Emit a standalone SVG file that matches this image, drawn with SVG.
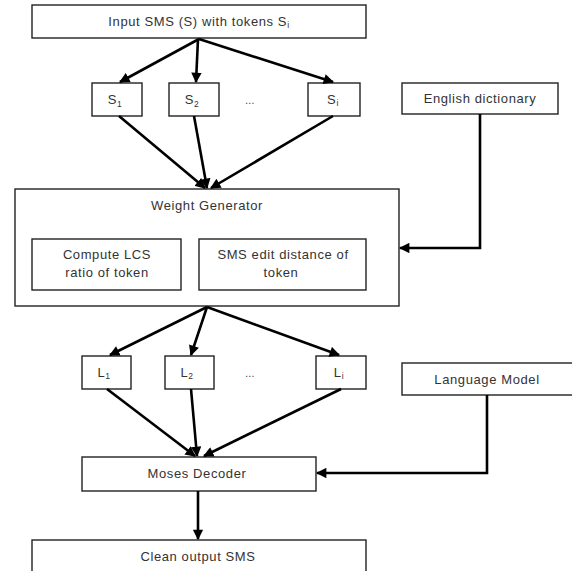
<svg xmlns="http://www.w3.org/2000/svg" width="572" height="571" viewBox="0 0 572 571">
<style>
.box{fill:#fff;stroke:#222;stroke-width:1.4}
.t{font-family:"Liberation Sans",Arial,sans-serif;font-size:13px;fill:#333;letter-spacing:0.6px;text-anchor:middle}
.sub{font-size:8.5px}
.c{fill:none;stroke:#000;stroke-width:2.6}
</style>
<defs>
<marker id="ah" viewBox="0 0 10 10" refX="9" refY="5" markerWidth="4.2" markerHeight="4" orient="auto" markerUnits="strokeWidth">
<path d="M0,0 L10,5 L0,10 z" fill="#000"/>
</marker>
</defs>
<rect width="572" height="571" fill="#fff"/>
<g id="input"><rect class="box" x="32" y="5" width="334" height="33"/><text class="t" x="199" y="26">Input SMS (S) with tokens S<tspan class="sub" dy="2">i</tspan></text></g>
<g id="s1"><rect class="box" x="92" y="83" width="50" height="33"/><text class="t" x="115" y="104">S<tspan class="sub" dy="3">1</tspan></text></g>
<g id="s2"><rect class="box" x="169" y="83" width="50" height="33"/><text class="t" x="192" y="104">S<tspan class="sub" dy="3">2</tspan></text></g>
<g id="sdots"><text class="t" x="250" y="104" style="font-size:10px">…</text></g>
<g id="si"><rect class="box" x="308" y="83" width="52" height="33"/><text class="t" x="333" y="104">S<tspan class="sub" dy="2">i</tspan></text></g>
<g id="dict"><rect class="box" x="402" y="83" width="156" height="31"/><text class="t" x="480" y="103">English dictionary</text></g>
<g id="wg"><rect class="box" x="15" y="189" width="384" height="117"/><text class="t" x="207" y="210">Weight Generator</text></g>
<g id="lcs"><rect class="box" x="32" y="239" width="149" height="51"/><text class="t" x="107" y="259">Compute LCS</text><text class="t" x="107" y="277">ratio of token</text></g>
<g id="sms"><rect class="box" x="199" y="239" width="167" height="51"/><text class="t" x="283" y="259">SMS edit distance of</text><text class="t" x="281" y="277">token</text></g>
<g id="l1"><rect class="box" x="82" y="356" width="49" height="33"/><text class="t" x="104" y="377">L<tspan class="sub" dy="2">1</tspan></text></g>
<g id="l2"><rect class="box" x="165" y="356" width="49" height="33"/><text class="t" x="187" y="377">L<tspan class="sub" dy="2">2</tspan></text></g>
<g id="ldots"><text class="t" x="250" y="377" style="font-size:10px">…</text></g>
<g id="li"><rect class="box" x="316" y="356" width="50" height="33"/><text class="t" x="339" y="377">L<tspan class="sub" dy="2">i</tspan></text></g>
<g id="lm"><rect class="box" x="402" y="363" width="172" height="32"/><text class="t" x="487" y="384">Language Model</text></g>
<g id="moses"><rect class="box" x="82" y="457" width="234" height="34"/><text class="t" x="197" y="478">Moses Decoder</text></g>
<g id="clean"><rect class="box" x="32" y="540" width="334" height="40"/><text class="t" x="198" y="561">Clean output SMS</text></g>
<g id="connectors">
<line class="c" x1="199" y1="39" x2="120" y2="82" marker-end="url(#ah)"/>
<line class="c" x1="198" y1="39" x2="196" y2="82" marker-end="url(#ah)"/>
<line class="c" x1="199" y1="39" x2="333" y2="82" marker-end="url(#ah)"/>
<line class="c" x1="119" y1="116" x2="205" y2="188" marker-end="url(#ah)"/>
<line class="c" x1="194" y1="116" x2="207" y2="188" marker-end="url(#ah)"/>
<line class="c" x1="333" y1="116" x2="211" y2="188" marker-end="url(#ah)"/>
<polyline class="c" points="480,114 480,248 400,248" marker-end="url(#ah)"/>
<line class="c" x1="207" y1="307" x2="110" y2="355" marker-end="url(#ah)"/>
<line class="c" x1="207" y1="307" x2="191" y2="355" marker-end="url(#ah)"/>
<line class="c" x1="207" y1="307" x2="339" y2="355" marker-end="url(#ah)"/>
<line class="c" x1="107" y1="389" x2="195" y2="456" marker-end="url(#ah)"/>
<line class="c" x1="191" y1="389" x2="197" y2="456" marker-end="url(#ah)"/>
<line class="c" x1="341" y1="389" x2="204" y2="456" marker-end="url(#ah)"/>
<polyline class="c" points="487,395 487,473 317,473" marker-end="url(#ah)"/>
<line class="c" x1="198" y1="491" x2="198" y2="539" marker-end="url(#ah)"/>
</g>
</svg>
